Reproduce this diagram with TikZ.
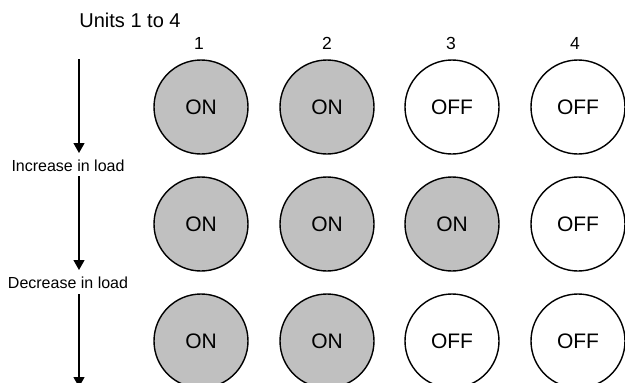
\documentclass[tikz,border=0pt]{standalone}
\usepackage{fontspec}
\setmainfont{Liberation Sans}
\usetikzlibrary{arrows.meta}
\begin{document}
\begin{tikzpicture}[x=1pt,y=-1pt,
  unit/.style={circle,draw=black,line width=1.4pt,minimum size=94pt,inner sep=0pt,font=\fontsize{21}{23}\selectfont},
  onu/.style={unit,fill=gray75},
  offu/.style={unit,fill=white},
  lbl/.style={inner sep=0pt,font=\fontsize{16}{18}\selectfont},
  num/.style={inner sep=0pt,font=\fontsize{17.5}{19}\selectfont},
  flow/.style={line width=1.3pt,-{Triangle[length=10pt,width=11pt]}}]
\definecolor{gray75}{RGB}{192,192,192}
\useasboundingbox (0,0) rectangle (625,383);
\node[inner sep=0pt,font=\fontsize{20}{22}\selectfont] (title) at (130,20) {Units 1 to 4};
\foreach \i/\x in {1/199,2/327,3/451,4/575}{
  \node[num] (n\i) at (\x,43) {\i};
}
% row 1
\node[onu]  (r1c1) at (201,107) {ON};
\node[onu]  (r1c2) at (327,107) {ON};
\node[offu] (r1c3) at (452,107) {OFF};
\node[offu] (r1c4) at (578,107) {OFF};
% row 2
\node[onu]  (r2c1) at (201,224) {ON};
\node[onu]  (r2c2) at (327,224) {ON};
\node[onu]  (r2c3) at (452,224) {ON};
\node[offu] (r2c4) at (578,224) {OFF};
% row 3
\node[onu]  (r3c1) at (201,341) {ON};
\node[onu]  (r3c2) at (327,341) {ON};
\node[offu] (r3c3) at (452,341) {\raisebox{-3pt}{OFF}};
\node[offu] (r3c4) at (578,341) {OFF};
% labels
\node[lbl] (inc) at (68,166) {Increase in load};
\node[lbl] (dec) at (68,283) {Decrease in load};
\coordinate (a1s) at (79,59);
\coordinate (a1e) at (79,153);
\coordinate (a2s) at (79,176);
\coordinate (a2e) at (79,270);
\coordinate (a3s) at (79,294);
\coordinate (a3e) at (79,387);
\draw[flow] (a1s) -- (a1e);
\draw[flow] (a2s) -- (a2e);
\draw[flow] (a3s) -- (a3e);
\end{tikzpicture}
\end{document}
